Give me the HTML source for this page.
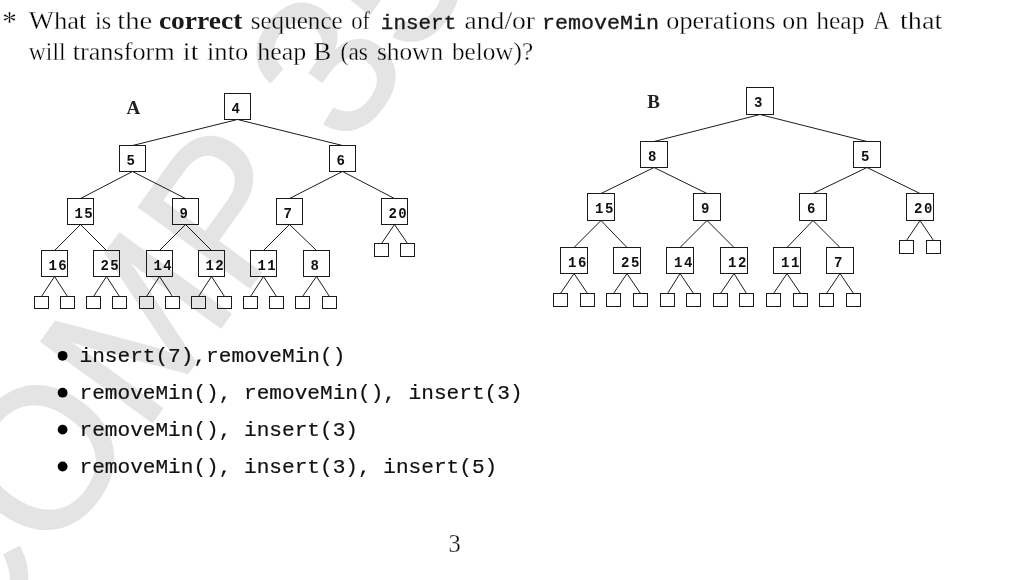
<!DOCTYPE html>
<html><head><meta charset="utf-8"><style>
html,body{margin:0;padding:0;background:#fff;width:1024px;height:580px;overflow:hidden}
svg{display:block;filter:grayscale(1)}
.rm{font-family:"Liberation Serif",serif;font-size:24.5px;fill:#000;stroke:#fff;stroke-width:0.3px}
.bf{font-family:"Liberation Serif",serif;font-weight:bold;font-size:24.5px;fill:#1a1a1a}
.tt{font-family:"Liberation Mono",monospace;font-size:20.8px;fill:#1a1a1a;stroke:#1a1a1a;stroke-width:0.35px}
.tl{font-family:"Liberation Mono",monospace;font-size:21.1px;fill:#111;stroke:#111;stroke-width:0.2px}
.wm{font-family:"Liberation Sans",sans-serif;font-size:199.44px;fill:#e4e4e4;stroke:#e4e4e4;stroke-width:2.0px;stroke-linejoin:round}
.num{font-family:"Liberation Mono",monospace;font-weight:bold;font-size:14px;fill:#111;letter-spacing:1.5px}
.lab{font-family:"Liberation Serif",serif;font-weight:bold;font-size:19px;fill:#222}
.tree line,.tree rect{stroke:#1a1a1a;stroke-width:1;fill:none}
.tree rect{shape-rendering:crispEdges}
.tree line{stroke:#000;stroke-width:0.9px}
</style></head><body>
<svg width="1024" height="580" viewBox="0 0 1024 580">
<g transform="translate(-32.96,677.38) rotate(-54.06)"><text class="wm" x="0" y="0">COMP 3506</text></g>
<g style="mix-blend-mode:multiply">
<text class="rm" x="2.2" y="31" style="font-size:29px">*</text>
<text class="rm" x="28.8" y="29.2" textLength="57.7" lengthAdjust="spacingAndGlyphs">What</text>
<text class="rm" x="95.1" y="29.2" textLength="16.1" lengthAdjust="spacingAndGlyphs">is</text>
<text class="rm" x="117.2" y="29.2" textLength="35.0" lengthAdjust="spacingAndGlyphs">the</text>
<text class="bf" x="158.9" y="29.2" textLength="83.5" lengthAdjust="spacingAndGlyphs">correct</text>
<text class="rm" x="250.7" y="29.2" textLength="92.0" lengthAdjust="spacingAndGlyphs">sequence</text>
<text class="rm" x="351.2" y="29.2" textLength="18.8" lengthAdjust="spacingAndGlyphs">of</text>
<text class="tt" x="380.8" y="29.2" textLength="75.5" lengthAdjust="spacingAndGlyphs">insert</text>
<text class="rm" x="464.6" y="29.2" textLength="70.4" lengthAdjust="spacingAndGlyphs">and/or</text>
<text class="tt" x="542.1" y="29.2" textLength="117.0" lengthAdjust="spacingAndGlyphs">removeMin</text>
<text class="rm" x="666.3" y="29.2" textLength="109.1" lengthAdjust="spacingAndGlyphs">operations</text>
<text class="rm" x="782.2" y="29.2" textLength="25.9" lengthAdjust="spacingAndGlyphs">on</text>
<text class="rm" x="816.2" y="29.2" textLength="48.3" lengthAdjust="spacingAndGlyphs">heap</text>
<text class="rm" x="873.5" y="29.2" textLength="15.9" lengthAdjust="spacingAndGlyphs">A</text>
<text class="rm" x="899.9" y="29.2" textLength="42.4" lengthAdjust="spacingAndGlyphs">that</text>
<text class="rm" x="28.8" y="59.6" textLength="36.7" lengthAdjust="spacingAndGlyphs">will</text>
<text class="rm" x="72.7" y="59.6" textLength="102.0" lengthAdjust="spacingAndGlyphs">transform</text>
<text class="rm" x="182.8" y="59.6" textLength="15.7" lengthAdjust="spacingAndGlyphs">it</text>
<text class="rm" x="207.0" y="59.6" textLength="41.3" lengthAdjust="spacingAndGlyphs">into</text>
<text class="rm" x="257.2" y="59.6" textLength="49.0" lengthAdjust="spacingAndGlyphs">heap</text>
<text class="rm" x="313.5" y="59.6" textLength="17.8" lengthAdjust="spacingAndGlyphs">B</text>
<text class="rm" x="340.6" y="59.6" textLength="27.3" lengthAdjust="spacingAndGlyphs">(as</text>
<text class="rm" x="376.9" y="59.6" textLength="66.2" lengthAdjust="spacingAndGlyphs">shown</text>
<text class="rm" x="451.9" y="59.6" textLength="81.2" lengthAdjust="spacingAndGlyphs">below)?</text>
</g>
<g class="tree">
<line x1="237.50" y1="119.50" x2="132.50" y2="145.50"/>
<line x1="237.50" y1="119.50" x2="342.50" y2="145.50"/>
<line x1="132.50" y1="171.50" x2="80.50" y2="198.50"/>
<line x1="132.50" y1="171.50" x2="185.50" y2="198.50"/>
<line x1="342.50" y1="171.50" x2="289.50" y2="198.50"/>
<line x1="342.50" y1="171.50" x2="394.50" y2="198.50"/>
<line x1="80.50" y1="224.50" x2="54.50" y2="250.50"/>
<line x1="80.50" y1="224.50" x2="106.50" y2="250.50"/>
<line x1="185.50" y1="224.50" x2="159.50" y2="250.50"/>
<line x1="185.50" y1="224.50" x2="211.50" y2="250.50"/>
<line x1="289.50" y1="224.50" x2="263.50" y2="250.50"/>
<line x1="289.50" y1="224.50" x2="316.50" y2="250.50"/>
<line x1="394.50" y1="224.50" x2="381.50" y2="243.50"/>
<line x1="394.50" y1="224.50" x2="407.50" y2="243.50"/>
<line x1="54.50" y1="276.50" x2="41.50" y2="296.50"/>
<line x1="54.50" y1="276.50" x2="67.50" y2="296.50"/>
<line x1="106.50" y1="276.50" x2="93.50" y2="296.50"/>
<line x1="106.50" y1="276.50" x2="119.50" y2="296.50"/>
<line x1="159.50" y1="276.50" x2="146.50" y2="296.50"/>
<line x1="159.50" y1="276.50" x2="172.50" y2="296.50"/>
<line x1="211.50" y1="276.50" x2="198.50" y2="296.50"/>
<line x1="211.50" y1="276.50" x2="224.50" y2="296.50"/>
<line x1="263.50" y1="276.50" x2="250.50" y2="296.50"/>
<line x1="263.50" y1="276.50" x2="276.50" y2="296.50"/>
<line x1="316.50" y1="276.50" x2="302.50" y2="296.50"/>
<line x1="316.50" y1="276.50" x2="329.50" y2="296.50"/>
<rect x="224.5" y="93.5" width="26" height="26"/>
<rect x="119.5" y="145.5" width="26" height="26"/>
<rect x="329.5" y="145.5" width="26" height="26"/>
<rect x="67.5" y="198.5" width="26" height="26"/>
<rect x="172.5" y="198.5" width="26" height="26"/>
<rect x="276.5" y="198.5" width="26" height="26"/>
<rect x="381.5" y="198.5" width="26" height="26"/>
<rect x="374.5" y="243.5" width="14" height="13"/>
<rect x="400.5" y="243.5" width="14" height="13"/>
<rect x="41.5" y="250.5" width="26" height="26"/>
<rect x="34.5" y="296.5" width="14" height="12"/>
<rect x="60.5" y="296.5" width="14" height="12"/>
<rect x="93.5" y="250.5" width="26" height="26"/>
<rect x="86.5" y="296.5" width="14" height="12"/>
<rect x="112.5" y="296.5" width="14" height="12"/>
<rect x="146.5" y="250.5" width="26" height="26"/>
<rect x="139.5" y="296.5" width="14" height="12"/>
<rect x="165.5" y="296.5" width="14" height="12"/>
<rect x="198.5" y="250.5" width="26" height="26"/>
<rect x="191.5" y="296.5" width="14" height="12"/>
<rect x="217.5" y="296.5" width="14" height="12"/>
<rect x="250.5" y="250.5" width="26" height="26"/>
<rect x="243.5" y="296.5" width="14" height="12"/>
<rect x="269.5" y="296.5" width="14" height="12"/>
<rect x="303.5" y="250.5" width="26" height="26"/>
<rect x="295.5" y="296.5" width="14" height="12"/>
<rect x="322.5" y="296.5" width="14" height="12"/>
<line x1="760.00" y1="114.50" x2="654.00" y2="141.50"/>
<line x1="760.00" y1="114.50" x2="867.00" y2="141.50"/>
<line x1="654.00" y1="167.50" x2="601.00" y2="193.50"/>
<line x1="654.00" y1="167.50" x2="707.00" y2="193.50"/>
<line x1="867.00" y1="167.50" x2="813.00" y2="193.50"/>
<line x1="867.00" y1="167.50" x2="920.00" y2="193.50"/>
<line x1="601.00" y1="220.50" x2="574.00" y2="247.50"/>
<line x1="601.00" y1="220.50" x2="627.00" y2="247.50"/>
<line x1="707.00" y1="220.50" x2="680.00" y2="247.50"/>
<line x1="707.00" y1="220.50" x2="734.00" y2="247.50"/>
<line x1="813.00" y1="220.50" x2="787.00" y2="247.50"/>
<line x1="813.00" y1="220.50" x2="840.00" y2="247.50"/>
<line x1="920.00" y1="220.50" x2="906.50" y2="240.50"/>
<line x1="920.00" y1="220.50" x2="933.50" y2="240.50"/>
<line x1="574.00" y1="273.50" x2="560.50" y2="293.50"/>
<line x1="574.00" y1="273.50" x2="587.50" y2="293.50"/>
<line x1="627.00" y1="273.50" x2="613.50" y2="293.50"/>
<line x1="627.00" y1="273.50" x2="640.50" y2="293.50"/>
<line x1="680.00" y1="273.50" x2="667.50" y2="293.50"/>
<line x1="680.00" y1="273.50" x2="693.50" y2="293.50"/>
<line x1="734.00" y1="273.50" x2="720.50" y2="293.50"/>
<line x1="734.00" y1="273.50" x2="746.50" y2="293.50"/>
<line x1="787.00" y1="273.50" x2="773.50" y2="293.50"/>
<line x1="787.00" y1="273.50" x2="800.50" y2="293.50"/>
<line x1="840.00" y1="273.50" x2="826.50" y2="293.50"/>
<line x1="840.00" y1="273.50" x2="853.50" y2="293.50"/>
<rect x="746.5" y="87.5" width="27" height="27"/>
<rect x="640.5" y="141.5" width="27" height="26"/>
<rect x="853.5" y="141.5" width="27" height="26"/>
<rect x="587.5" y="193.5" width="27" height="27"/>
<rect x="693.5" y="193.5" width="27" height="27"/>
<rect x="799.5" y="193.5" width="27" height="27"/>
<rect x="906.5" y="193.5" width="27" height="27"/>
<rect x="899.5" y="240.5" width="14" height="13"/>
<rect x="926.5" y="240.5" width="14" height="13"/>
<rect x="560.5" y="247.5" width="27" height="26"/>
<rect x="553.5" y="293.5" width="14" height="13"/>
<rect x="580.5" y="293.5" width="14" height="13"/>
<rect x="613.5" y="247.5" width="27" height="26"/>
<rect x="606.5" y="293.5" width="14" height="13"/>
<rect x="633.5" y="293.5" width="14" height="13"/>
<rect x="666.5" y="247.5" width="27" height="26"/>
<rect x="660.5" y="293.5" width="14" height="13"/>
<rect x="686.5" y="293.5" width="14" height="13"/>
<rect x="720.5" y="247.5" width="27" height="26"/>
<rect x="713.5" y="293.5" width="14" height="13"/>
<rect x="739.5" y="293.5" width="14" height="13"/>
<rect x="773.5" y="247.5" width="27" height="26"/>
<rect x="766.5" y="293.5" width="14" height="13"/>
<rect x="793.5" y="293.5" width="14" height="13"/>
<rect x="826.5" y="247.5" width="27" height="26"/>
<rect x="819.5" y="293.5" width="14" height="13"/>
<rect x="846.5" y="293.5" width="14" height="13"/>
</g>
<g class="num">
<text x="231.40" y="113.00">4</text>
<text x="126.40" y="165.00">5</text>
<text x="336.40" y="165.00">6</text>
<text x="74.40" y="218.00">15</text>
<text x="179.40" y="218.00">9</text>
<text x="283.40" y="218.00">7</text>
<text x="388.40" y="218.00">20</text>
<text x="48.40" y="270.00">16</text>
<text x="100.40" y="270.00">25</text>
<text x="153.40" y="270.00">14</text>
<text x="205.40" y="270.00">12</text>
<text x="257.40" y="270.00">11</text>
<text x="310.40" y="270.00">8</text>
<text x="754.10" y="107.20">3</text>
<text x="648.10" y="161.20">8</text>
<text x="861.10" y="161.20">5</text>
<text x="595.10" y="213.20">15</text>
<text x="701.10" y="213.20">9</text>
<text x="807.10" y="213.20">6</text>
<text x="914.10" y="213.20">20</text>
<text x="568.10" y="267.20">16</text>
<text x="621.10" y="267.20">25</text>
<text x="674.10" y="267.20">14</text>
<text x="728.10" y="267.20">12</text>
<text x="781.10" y="267.20">11</text>
<text x="834.10" y="267.20">7</text>
</g>
<text class="lab" x="126.6" y="113.9">A</text>
<text class="lab" x="647.3" y="108.2">B</text>
<circle cx="62.6" cy="355.8" r="4.9"/><text class="tl" x="79.5" y="362">insert(7),removeMin()</text><circle cx="62.6" cy="392.7" r="4.9"/><text class="tl" x="79.5" y="398.9">removeMin(), removeMin(), insert(3)</text><circle cx="62.6" cy="429.6" r="4.9"/><text class="tl" x="79.5" y="435.8">removeMin(), insert(3)</text><circle cx="62.6" cy="466.5" r="4.9"/><text class="tl" x="79.5" y="472.7">removeMin(), insert(3), insert(5)</text>
<text class="rm" x="448.6" y="552">3</text>
</svg>
</body></html>
